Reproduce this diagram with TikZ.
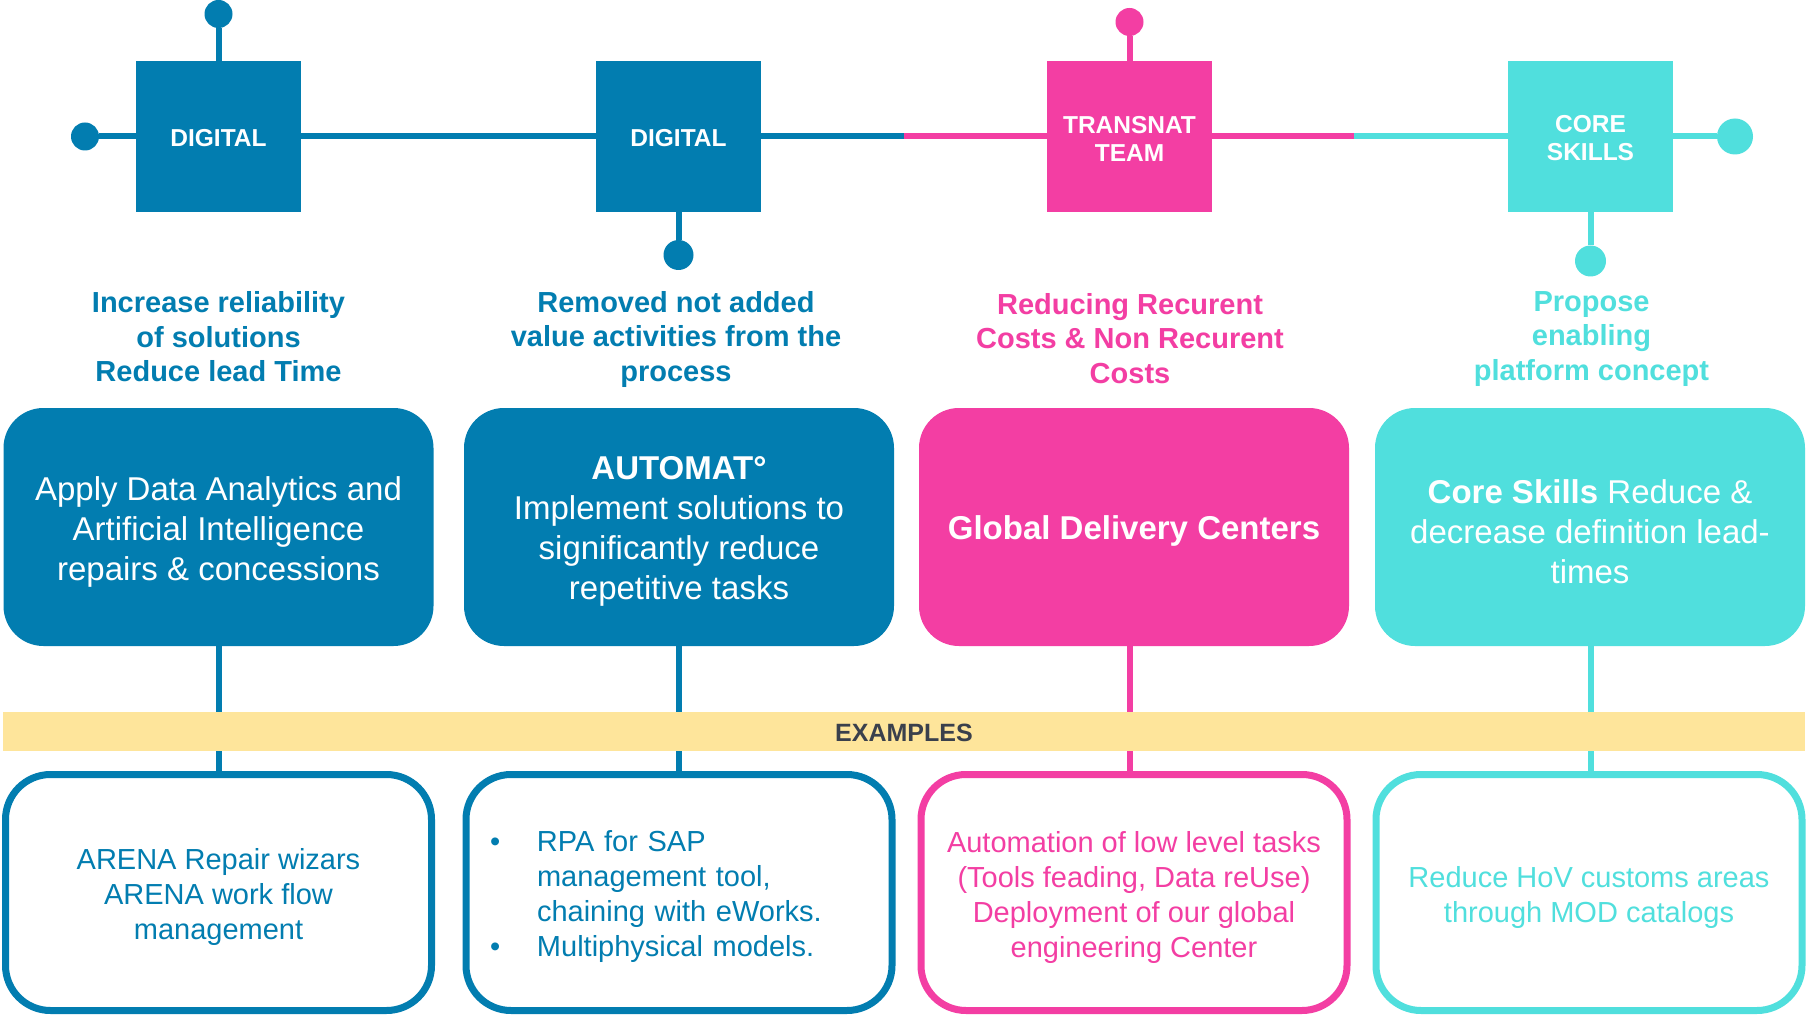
\documentclass[tikz,border=0pt]{standalone}
\usepackage{fontspec}
\setmainfont{Liberation Sans}
\definecolor{cblue}{HTML}{027DB0}
\definecolor{cpink}{HTML}{F33EA3}
\definecolor{ccyan}{HTML}{50DFDD}
\definecolor{cyell}{HTML}{FEE59B}
\definecolor{cgray}{HTML}{3A404C}
\begin{document}
\begin{tikzpicture}[x=1pt,y=-1pt,
  sq/.style={rectangle,minimum width=165pt,minimum height=151pt,inner sep=0pt,fill=#1},
  sqt/.style={text=white,align=center,inner sep=0pt,font=\bfseries\fontsize{24.5}{28}\selectfont},
  dotc/.style={circle,fill=#1,inner sep=0pt},
  sub/.style={text=#1,align=center,font=\bfseries\fontsize{29}{34.5}\selectfont},
  big/.style={rectangle,rounded corners=40pt,minimum width=430pt,minimum height=238pt,inner sep=0pt,fill=#1},
  bigt/.style={text=white,align=center,inner sep=0pt,font=\fontsize{33}{40}\selectfont},
  bot/.style={rectangle,rounded corners=45pt,minimum width=426pt,minimum height=236pt,inner sep=0pt,draw=#1,line width=7pt,fill=white},
  bott/.style={text=#1,align=center,inner sep=0pt,font=\fontsize{29}{35}\selectfont},
  conn/.style={draw=#1,line width=6pt}]
\useasboundingbox (0,0) rectangle (1808,1016);
\fill[white] (0,0) rectangle (1808,1016);

% top squares
\node[sq=cblue] (sq1) at (218.5,136.5) {};
\node[sq=cblue] (sq2) at (678.5,136.5) {};
\node[sq=cpink] (sq3) at (1129.5,136.5) {};
\node[sq=ccyan] (sq4) at (1590.5,136.5) {};
\node[sqt] (sq1t) at ([yshift=-2pt]sq1.center) {DIGITAL};
\node[sqt] (sq2t) at ([yshift=-2pt]sq2.center) {DIGITAL};
\node[sqt] (sq3t) at ([yshift=-2pt]sq3.center) {TRANSNAT\\TEAM};
\node[sqt] (sq4t) at ([yshift=-2pt]sq4.center) {CORE\\SKILLS};

% dots
\node[dotc=cblue,minimum size=28pt] (dotL) at (85,136.5) {};
\node[dotc=cblue,minimum size=28pt] (dot1) at (218.5,14) {};
\node[dotc=cblue,minimum size=30pt] (dot2) at (678.5,255) {};
\node[dotc=cpink,minimum size=28pt] (dot3) at (1129.5,22) {};
\node[dotc=ccyan,minimum size=31pt] (dot4) at (1590.5,261) {};
\node[dotc=ccyan,minimum size=36pt] (dotR) at (1735,136.5) {};

\coordinate (cbp) at (904,136.5);
\coordinate (cpc) at (1354,136.5);

% main line
\draw[conn=cblue] (dotL) -- (sq1);
\draw[conn=cblue] (sq1) -- (sq2);
\draw[conn=cblue] (sq2) -- (cbp);
\draw[conn=cpink] (cbp) -- (sq3);
\draw[conn=cpink] (sq3) -- (cpc);
\draw[conn=ccyan] (cpc) -- (sq4);
\draw[conn=ccyan] (sq4) -- (dotR);
\draw[conn=cblue] (dot1) -- (sq1);
\draw[conn=cblue] (sq2) -- (dot2);
\draw[conn=cpink] (dot3) -- (sq3);
\draw[conn=ccyan] (sq4) -- (dot4);

% subtitles
\node[sub=cblue] (t1) at (218.5,337) {Increase reliability\\of solutions\\Reduce lead Time};
\node[sub=cblue] (t2) at (676,339.5) {Removed not added\\value activities from the\\process};
\node[sub=cpink] (t3) at (1130,338.5) {Reducing Recurent\\Costs \& Non Recurent\\Costs};
\node[sub=ccyan] (t4) at (1591.5,339) {Propose\\enabling\\platform concept};

% big boxes
\node[big=cblue] (b1) at (218.5,527) {};
\node[big=cblue] (b2) at (679,527) {};
\node[big=cpink] (b3) at (1134,527) {};
\node[big=ccyan] (b4) at (1590,527) {};
\node[bigt] (b1t) at ([yshift=-4.5pt]b1.center) {Apply Data Analytics and\\Artificial Intelligence\\repairs \& concessions};
\node[bigt] (b2t) at ([yshift=-4pt]b2.center) {\textbf{AUTOMAT°}\\Implement solutions to\\significantly reduce\\repetitive tasks};
\node[bigt] (b3t) at ([yshift=-3.5pt]b3.center) {\textbf{Global Delivery Centers}};
\node[bigt] (b4t) at ([yshift=-4.5pt]b4.center) {\textbf{Core Skills} Reduce \&\\decrease definition lead-\\times};

% bottom boxes
\node[bot=cblue] (e1) at (218.5,892.5) {};
\node[bot=cblue] (e2) at (679,892.5) {};
\node[bot=cpink] (e3) at (1134,892.5) {};
\node[bot=ccyan] (e4) at (1589,892.5) {};
\node[bott=cblue] (e1t) at ([yshift=-4.5pt]e1.center) {ARENA Repair wizars\\ARENA work flow\\management};
\node[bott=cblue,text width=400pt,align=left] (e2t) at ([yshift=-4.5pt]e2.center) {\hspace*{11pt}\makebox[47pt][l]{•}RPA for SAP\\\hspace*{58pt}management tool,\\\hspace*{58pt}chaining with eWorks.\\\hspace*{11pt}\makebox[47pt][l]{•}Multiphysical models.};
\node[bott=cpink] (e3t) at ([yshift=-4.5pt]e3.center) {Automation of low level tasks\\(Tools feading, Data reUse)\\Deployment of our global\\engineering Center};
\node[bott=ccyan] (e4t) at ([yshift=-4.5pt]e4.center) {Reduce HoV customs areas\\through MOD catalogs};

% vertical connectors
\draw[conn=cblue] (b1.south -| sq1.south) -- (e1.north -| sq1.south);
\draw[conn=cblue] (b2.south -| sq2.south) -- (e2.north -| sq2.south);
\draw[conn=cpink] (b3.south -| sq3.south) -- (e3.north -| sq3.south);
\draw[conn=ccyan] (b4.south -| sq4.south) -- (e4.north -| sq4.south);

% examples bar
\node[rectangle,fill=cyell,minimum width=1802pt,minimum height=38.5pt,inner sep=0pt] (ex) at (904,731.25) {};
\node[text=cgray,inner sep=0pt,font=\bfseries\fontsize{25}{30}\selectfont] (ext) at ([yshift=-2pt]ex.center) {EXAMPLES};
\end{tikzpicture}
\end{document}
